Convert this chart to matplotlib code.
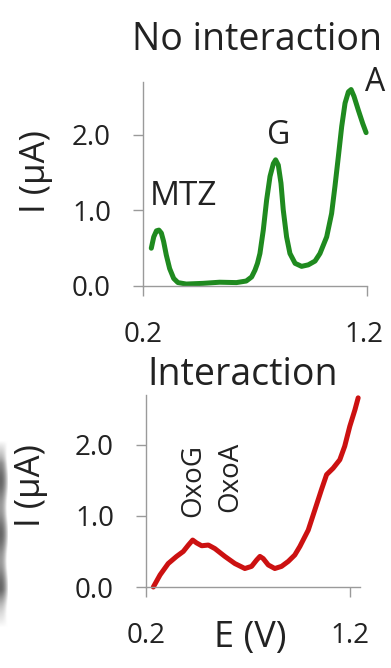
import matplotlib
matplotlib.use("Agg")
import matplotlib.pyplot as plt
import matplotlib.transforms as mtransforms
import numpy as np

plt.rcParams['font.family'] = ['Open Sans', 'DejaVu Sans']

# ---- data ----
e_no = [0.237, 0.248, 0.260, 0.271, 0.282, 0.292, 0.304, 0.319, 0.337, 0.356,
        0.393, 0.468, 0.542, 0.617, 0.661, 0.685, 0.700, 0.711, 0.722, 0.737,
        0.752, 0.767, 0.782, 0.792, 0.804, 0.816, 0.826, 0.841, 0.856, 0.879,
        0.908, 0.938, 0.968, 0.990, 1.020, 1.042, 1.057, 1.072, 1.087, 1.102,
        1.117, 1.129, 1.142, 1.161, 1.181, 1.196]
i_no = [0.50, 0.65, 0.73, 0.74, 0.70, 0.59, 0.41, 0.23, 0.10, 0.045,
        0.026, 0.035, 0.05, 0.045, 0.066, 0.12, 0.21, 0.30, 0.43, 0.74,
        1.14, 1.45, 1.62, 1.67, 1.60, 1.36, 1.01, 0.65, 0.43, 0.30,
        0.26, 0.28, 0.33, 0.43, 0.65, 0.96, 1.32, 1.71, 2.11, 2.42,
        2.57, 2.60, 2.51, 2.33, 2.15, 2.03]

e_int = [0.236, 0.269, 0.309, 0.350, 0.383, 0.408, 0.429, 0.448, 0.473, 0.506,
         0.538, 0.587, 0.636, 0.685, 0.718, 0.743, 0.759, 0.775, 0.800, 0.832,
         0.865, 0.898, 0.930, 0.955, 0.996, 1.028, 1.061, 1.086, 1.118, 1.151,
         1.175, 1.200, 1.225, 1.241]
i_int = [0.00, 0.17, 0.33, 0.43, 0.50, 0.59, 0.66, 0.62, 0.58, 0.59,
         0.54, 0.43, 0.33, 0.26, 0.29, 0.38, 0.43, 0.40, 0.31, 0.26,
         0.29, 0.36, 0.45, 0.57, 0.80, 1.08, 1.37, 1.58, 1.67, 1.79,
         1.98, 2.26, 2.49, 2.66]

y_ticks = [0.0, 1.0, 2.0]
y_ticklabels = ['0.0', '1.0', '2.0']
x_ticks = [0.2, 1.2]
x_ticklabels = ['0.2', '1.2']

peaks_no = [('MTZ', 0.231, 1.19), ('G', 0.752, 1.99), ('A', 1.19, 2.69)]
peaks_int = [('OxoG', 0.430, 0.99), ('OxoA', 0.612, 1.06)]

W, H = 391, 668
fig = plt.figure(figsize=(W / 100, H / 100), dpi=100)

AX_COL = '#9a9a9a'
TXT = '#222222'

# grey photographic edge at the lower left of the reference
strip = fig.add_axes([0, 1 - 628 / H, 8 / W, 188 / H])
gx = np.linspace(0, 1, 16)
gy = np.linspace(0, 1, 120)
GX, GY = np.meshgrid(gx, gy)
shade = 0.50 + 0.5 * GX ** 2
band = 0.10 * np.sin(GY * 2 * np.pi * 3.5)
fade = np.clip(np.minimum(GY / 0.12, (1 - GY) / 0.2), 0, 1)
img = 1 - (1 - np.clip(shade + band, 0, 1)) * fade
strip.imshow(img, cmap='gray', vmin=0, vmax=1, aspect='auto',
             interpolation='bilinear')
strip.axis('off')


def style(ax, xmax):
    for s in ['top', 'right']:
        ax.spines[s].set_visible(False)
    for s in ['left', 'bottom']:
        ax.spines[s].set_color(AX_COL)
        ax.spines[s].set_linewidth(1.0)
    ax.set_ylim(0, 2.7)
    ax.set_xlim(0.2, xmax)
    ax.set_yticks(y_ticks)
    ax.set_yticklabels(y_ticklabels)
    ax.set_xticks(x_ticks)
    ax.set_xticklabels(x_ticklabels)
    ax.tick_params(axis='both', direction='out', length=7, width=1.0,
                   color=AX_COL, labelcolor=TXT, labelsize=20)
    ax.tick_params(axis='y', pad=16)
    ax.tick_params(axis='x', pad=18)
    ax.patch.set_alpha(0)


# top panel
ax1 = fig.add_axes([143 / W, 1 - 286 / H, 224 / W, 204 / H])
style(ax1, 1.2)
ax1.plot(e_no, i_no, color='#1f8a1f', lw=3.6, solid_capstyle='round',
         solid_joinstyle='round', clip_on=False)
for name, x, y in peaks_no:
    ax1.text(x, y, name, fontsize=24 if name == 'MTZ' else 23, color=TXT,
             ha='left', va='center', clip_on=False)
ax1.set_ylabel('I (µA)', fontsize=25, color=TXT)
ax1.yaxis.set_label_coords(-0.40, 0.56)
lbl = ax1.get_xticklabels()[1]
lbl.set_transform(lbl.get_transform() +
                  mtransforms.ScaledTranslation(-3 / 100, 0, fig.dpi_scale_trans))

# bottom panel
ax2 = fig.add_axes([146 / W, 1 - 587 / H, 214 / W, 192 / H])
style(ax2, 1.25)
ax2.plot(e_int, i_int, color='#cc1111', lw=3.6, solid_capstyle='round',
         solid_joinstyle='round', clip_on=False)
for name, x, y in peaks_int:
    ax2.text(x, y, name, fontsize=20, color=TXT, ha='center', va='bottom',
             rotation=90, clip_on=False)
ax2.set_ylabel('I (µA)', fontsize=25, color=TXT)
ax2.yaxis.set_label_coords(-0.458, 0.53)
ax2.set_xlabel('E (V)', fontsize=26, color=TXT)
ax2.xaxis.set_label_coords(0.485, -0.17)

fig.text(257 / W, 1 - 50 / H, 'No interaction', fontsize=27, color=TXT,
         ha='center', va='baseline')
fig.text(243 / W, 1 - 385 / H, 'Interaction', fontsize=27, color=TXT,
         ha='center', va='baseline')

fig.savefig('out.png', dpi=100)
